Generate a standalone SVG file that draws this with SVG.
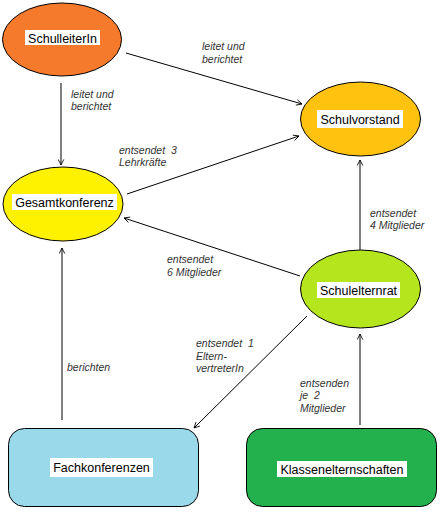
<svg xmlns="http://www.w3.org/2000/svg" width="445" height="515" viewBox="0 0 445 515">
<defs>
<style>
.node{stroke:#000;stroke-width:1}
.lbl{font-family:"Liberation Sans",Arial,sans-serif;font-size:12.5px;fill:#000;text-anchor:middle}
.bg{fill:#fff}
.edge{stroke:#000;stroke-width:1;fill:none;marker-end:url(#arr)}
.el{font-family:"Liberation Sans",Arial,sans-serif;font-size:10.5px;font-style:italic;fill:#333}
</style>
<marker id="arr" viewBox="0 0 10 10" refX="9" refY="5" markerWidth="7" markerHeight="7" orient="auto" markerUnits="userSpaceOnUse">
<path d="M1,1 L9,5 L1,9" fill="none" stroke="#000" stroke-width="1.2"/>
</marker>
</defs>
<rect width="445" height="515" fill="#fff"/>
<g id="connectors">
<line class="edge" x1="126" y1="53" x2="302" y2="104"/>
<line class="edge" x1="61" y1="83" x2="61" y2="165"/>
<line class="edge" x1="127" y1="194" x2="299" y2="136"/>
<line class="edge" x1="300" y1="276" x2="124" y2="218"/>
<line class="edge" x1="360" y1="250" x2="360" y2="160"/>
<line class="edge" x1="62" y1="420" x2="62" y2="248"/>
<line class="edge" x1="307" y1="316" x2="194" y2="428"/>
<line class="edge" x1="360" y1="425" x2="360" y2="334"/>
<text class="el" x="202" y="50">leitet und</text>
<text class="el" x="202" y="63">berichtet</text>
<text class="el" x="71" y="98">leitet und</text>
<text class="el" x="71" y="110">berichtet</text>
<text class="el" x="119" y="154" xml:space="preserve">entsendet  3</text>
<text class="el" x="119" y="166">Lehrkräfte</text>
<text class="el" x="370" y="217">entsendet</text>
<text class="el" x="370" y="229">4 Mitglieder</text>
<text class="el" x="167" y="263">entsendet</text>
<text class="el" x="167" y="276">6 Mitglieder</text>
<text class="el" x="196" y="347" xml:space="preserve">entsendet  1</text>
<text class="el" x="196" y="360">Eltern-</text>
<text class="el" x="196" y="372">vertreterIn</text>
<text class="el" x="67" y="371">berichten</text>
<text class="el" x="300" y="387">entsenden</text>
<text class="el" x="300" y="399" xml:space="preserve">je  2</text>
<text class="el" x="300" y="412">Mitglieder</text>
</g>
<g id="schulleiterin">
<ellipse class="node" cx="62" cy="39.5" rx="59.5" ry="36.5" fill="#f57a2c"/>
<rect class="bg" x="25" y="30" width="75" height="15"/>
<text class="lbl" x="62.5" y="42.5">SchulleiterIn</text>
</g>
<g id="schulvorstand">
<ellipse class="node" cx="360.5" cy="119" rx="60" ry="37" fill="#ffc20e"/>
<rect class="bg" x="317" y="110" width="86" height="18"/>
<text class="lbl" x="360" y="123.5">Schulvorstand</text>
</g>
<g id="gesamtkonferenz">
<ellipse class="node" cx="63" cy="204" rx="60" ry="37" fill="#fff200"/>
<rect class="bg" x="12" y="194" width="105" height="16"/>
<text class="lbl" x="64.5" y="207">Gesamtkonferenz</text>
</g>
<g id="schulelternrat">
<ellipse class="node" cx="360.5" cy="289" rx="60" ry="39" fill="#b5e61d"/>
<rect class="bg" x="317" y="282" width="83" height="16"/>
<text class="lbl" x="358.5" y="294.5">Schulelternrat</text>
</g>
<g id="fachkonferenzen">
<rect class="node" x="8.5" y="428.5" width="190" height="78" rx="16" fill="#99d9ea"/>
<rect class="bg" x="50" y="458" width="103" height="19"/>
<text class="lbl" x="101.5" y="472">Fachkonferenzen</text>
</g>
<g id="klassenelternschaften">
<rect class="node" x="246.5" y="428.5" width="190" height="78" rx="16" fill="#22b14c"/>
<rect class="bg" x="277" y="461" width="130" height="16"/>
<text class="lbl" x="342" y="474">Klassenelternschaften</text>
</g>
</svg>
